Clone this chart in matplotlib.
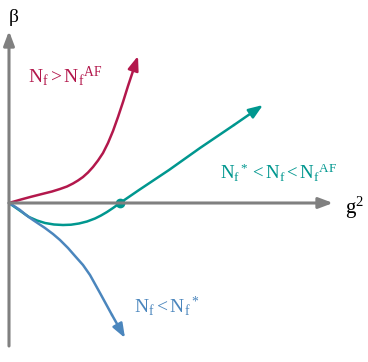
import matplotlib
matplotlib.use("Agg")
import matplotlib.pyplot as plt

plt.rcParams["mathtext.fontset"] = "custom"
plt.rcParams["mathtext.rm"] = "Liberation Serif"
plt.rcParams["mathtext.it"] = "Liberation Serif:italic"
plt.rcParams["font.family"] = ["Liberation Serif", "DejaVu Serif"]

# flow curves beta(g^2)
red_x = [0.0, 0.12, 0.22, 0.33, 0.43, 0.51, 0.58, 0.64, 0.69, 0.74, 0.79, 0.84,
         0.89, 0.94, 0.99, 1.04, 1.09, 1.14, 1.19, 1.24, 1.29]
red_y = [0.0, 0.035, 0.062, 0.09, 0.115, 0.14, 0.165, 0.195, 0.225, 0.26, 0.305,
         0.36, 0.425, 0.50, 0.60, 0.72, 0.86, 1.01, 1.17, 1.32, 1.47]

teal_x = [0.0, 0.05, 0.10, 0.15, 0.20, 0.28, 0.36, 0.45, 0.54, 0.62, 0.70, 0.78,
          0.86, 0.92, 0.98, 1.04, 1.11, 1.30, 1.60, 1.91, 2.25, 2.54]
teal_y = [0.0, -0.035, -0.07, -0.105, -0.14, -0.175, -0.20, -0.215, -0.22, -0.217,
          -0.205, -0.185, -0.155, -0.125, -0.09, -0.05, 0.0, 0.13, 0.33, 0.55, 0.78, 0.98]

blue_x = [0.0, 0.05, 0.11, 0.17, 0.24, 0.30, 0.36, 0.44, 0.51, 0.59, 0.66, 0.74,
          0.81, 0.86, 0.91, 0.97, 1.03, 1.16]
blue_y = [0.0, -0.03, -0.07, -0.12, -0.17, -0.21, -0.25, -0.31, -0.37, -0.45, -0.53,
          -0.62, -0.72, -0.81, -0.90, -1.01, -1.12, -1.35]

fixed_point = (1.11, 0.0)

gray = "#808080"
red = "#b3184c"
teal = "#00978f"
blue = "#4b86bd"

fig = plt.figure(figsize=(3.68, 3.62), dpi=100)
ax = fig.add_axes([0, 0, 1, 1])
ax.set_xlim(-0.09, 3.59)
ax.set_ylim(-1.59, 2.03)
ax.axis("off")

# axes with arrow heads
axis_head = "-|>,head_length=0.85,head_width=0.32"
ax.annotate("", xy=(3.24, 0), xytext=(0, 0),
            arrowprops=dict(arrowstyle=axis_head, color=gray, lw=2.2,
                            shrinkA=0, shrinkB=0))
ax.annotate("", xy=(0, 1.72), xytext=(0, -1.43),
            arrowprops=dict(arrowstyle=axis_head, color=gray, lw=2.2,
                            shrinkA=0, shrinkB=0))

curve_head = "-|>,head_length=0.85,head_width=0.32"
for xs, ys, c in [(red_x, red_y, red), (teal_x, teal_y, teal), (blue_x, blue_y, blue)]:
    ax.plot(xs[:-1], ys[:-1], color=c, lw=1.8, solid_capstyle="round",
            solid_joinstyle="round")
    ax.annotate("", xy=(xs[-1], ys[-1]), xytext=(xs[-2], ys[-2]),
                arrowprops=dict(arrowstyle=curve_head, color=c, lw=1.8,
                                shrinkA=0, shrinkB=0))

ax.plot(*fixed_point, "o", color=teal, ms=6)

ax.text(0.05, 1.85, "β", fontsize=14, ha="center", va="center", color="black")
ax.text(3.36, -0.05, r"$\mathrm{g^2}$", fontsize=15, ha="left", va="center", color="black")
ax.text(0.19, 1.27, r"$\mathrm{N_f > N_f{}^{AF}}$", fontsize=14, color=red, ha="left", va="center")
ax.text(2.11, 0.30, r"$\mathrm{N_f{}^* < N_f < N_f{}^{AF}}$", fontsize=13.5, color=teal, ha="left", va="center")
ax.text(1.25, -1.03, r"$\mathrm{N_f < N_f{}^*}$", fontsize=14, color=blue, ha="left", va="center")

fig.savefig("out.png", dpi=100)
